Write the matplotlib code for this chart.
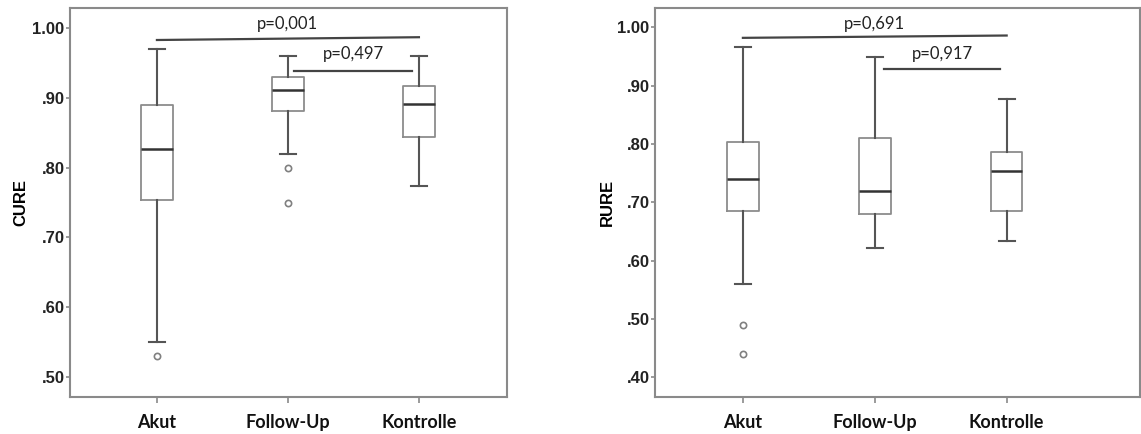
import matplotlib.pyplot as plt

groups = ["Akut", "Follow-Up", "Kontrolle"]

# box statistics: whislo, q1, med, q3, whishi, outliers
cure_whislo = [0.550, 0.820, 0.774]
cure_q1 = [0.753, 0.881, 0.844]
cure_med = [0.827, 0.911, 0.891]
cure_q3 = [0.890, 0.930, 0.917]
cure_whishi = [0.970, 0.960, 0.960]
cure_fliers = [[0.530], [0.800, 0.750], []]
cure_p = ["p=0,001", "p=0,497"]

rure_whislo = [0.559, 0.622, 0.634]
rure_q1 = [0.685, 0.680, 0.685]
rure_med = [0.740, 0.720, 0.753]
rure_q3 = [0.803, 0.810, 0.787]
rure_whishi = [0.967, 0.950, 0.877]
rure_fliers = [[0.489, 0.439], [], []]
rure_p = ["p=0,691", "p=0,917"]

frame_col = "#8a8a8a"


def make_stats(lo, q1, med, q3, hi, fl):
    stats = []
    for i in range(len(groups)):
        stats.append(dict(whislo=lo[i], q1=q1[i], med=med[i], q3=q3[i],
                          whishi=hi[i], fliers=fl[i], label=groups[i]))
    return stats


def draw_panel(ax, stats, ylabel, yticks, ylim, xlim, p_texts, brackets, lpad):
    ax.bxp(stats, positions=[1, 2, 3], widths=0.24, showfliers=True,
           boxprops=dict(color="#8c8c8c", linewidth=1.3),
           whiskerprops=dict(color="#555555", linewidth=1.5),
           capprops=dict(color="#555555", linewidth=1.5),
           medianprops=dict(color="#333333", linewidth=1.8),
           flierprops=dict(marker="o", markersize=4.5, markerfacecolor="none",
                           markeredgecolor="#808080", markeredgewidth=1.2))
    ax.set_xlim(*xlim)
    ax.set_ylim(*ylim)
    ax.set_yticks(yticks)
    ax.set_yticklabels([("%.2f" % v).lstrip("0") if v < 1 else "%.2f" % v for v in yticks],
                       fontfamily="Liberation Sans", fontweight="bold", fontsize=12,
                       color="#222222")
    ax.set_xticks([1, 2, 3])
    ax.set_xticklabels(groups, fontfamily="Lato", fontweight="bold", fontsize=13,
                       color="#111111")
    ax.tick_params(axis="y", length=3, width=1.2, color=frame_col, pad=1)
    ax.tick_params(axis="x", length=4, width=1.2, color=frame_col, pad=8)
    ax.set_ylabel(ylabel, fontfamily="Liberation Sans", fontweight="bold",
                  fontsize=12, labelpad=lpad)
    for s in ax.spines.values():
        s.set_color(frame_col)
        s.set_linewidth(1.5)
    for (x0, x1, yl, yr, yt), txt in zip(brackets, p_texts):
        ax.plot([x0, x1], [yl, yr], color="#444444", linewidth=1.6)
        ax.text((x0 + x1) / 2, yt, txt, ha="center", va="bottom",
                fontfamily="Lato", fontsize=12, color="#222222")


fig = plt.figure(figsize=(11.41, 4.34), dpi=100)
ax1 = fig.add_axes([0.0613, 0.0853, 0.383, 0.896])
ax2 = fig.add_axes([0.574, 0.0853, 0.425, 0.896])

draw_panel(ax1, make_stats(cure_whislo, cure_q1, cure_med, cure_q3, cure_whishi, cure_fliers),
           "CURE", [0.5, 0.6, 0.7, 0.8, 0.9, 1.0], (0.4714, 1.0287), (0.336, 3.672),
           cure_p, [(1.0, 3.0, 0.983, 0.987, 0.994), (2.05, 2.95, 0.939, 0.939, 0.951)], 3)

draw_panel(ax2, make_stats(rure_whislo, rure_q1, rure_med, rure_q3, rure_whishi, rure_fliers),
           "RURE", [0.4, 0.5, 0.6, 0.7, 0.8, 0.9, 1.0], (0.366, 1.033), (0.333, 4.01),
           rure_p, [(1.0, 3.0, 0.982, 0.986, 0.992), (2.07, 2.95, 0.929, 0.929, 0.941)], 2)

fig.savefig("out.png", dpi=100)
